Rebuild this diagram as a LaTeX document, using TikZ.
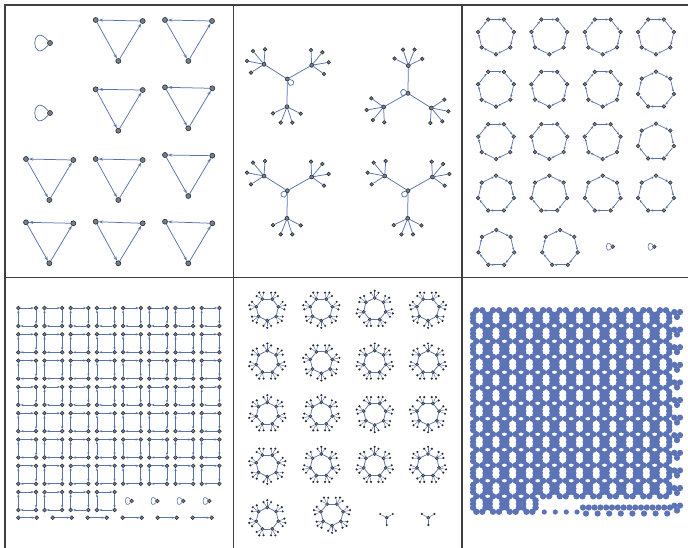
\documentclass[tikz,border=0pt]{standalone}
\usetikzlibrary{arrows.meta}
\definecolor{edgec}{RGB}{88,116,176}
\definecolor{vfill}{RGB}{118,126,138}
\definecolor{vdraw}{RGB}{40,44,52}
\definecolor{blob}{RGB}{92,116,182}
\tikzset{
 vtx/.style={circle,fill=vfill,draw=vdraw,line width=0.6pt,inner sep=0pt,minimum size=5pt},
 svtx/.style={vtx,minimum size=4pt},
 lvtx/.style={vtx,minimum size=3.6pt},
 hvtx/.style={vtx,minimum size=3.8pt,line width=0.5pt},
 tvtx/.style={vtx,minimum size=3.2pt,line width=0.5pt},
 leafv/.style={circle,fill=vdraw,inner sep=0pt,minimum size=2.4pt},
 edge/.style={draw=edgec,line width=0.75pt},
 arr/.style={edge,-{Stealth[length=4.5pt,width=3pt]}},
 sarr/.style={edge,line width=0.7pt,-{Stealth[length=3pt,width=2.2pt]}},
 frame/.style={draw=black!75,line width=1.1pt},
 bigloop/.style={edge,out=130,in=230,min distance=28pt},
 smloop/.style={edge,line width=0.6pt,out=130,in=230,min distance=10pt},
}
\newcommand{\dtri}[7]{%
 \node[vtx] (#1a) at (#2,#3) {};
 \node[vtx] (#1b) at (#4,#5) {};
 \node[vtx] (#1c) at (#6,#7) {};
 \draw[arr] (#1b) -- (#1a);
 \draw[arr] (#1a) -- (#1c);
 \draw[arr] (#1c) -- (#1b);
}
\newcommand{\startree}[4]{%
 \begin{scope}[shift={(#2,#3)},rotate=#4]
 \node[svtx] (#1r) at (0,0) {};
 \node[svtx] (#1p) at (-23.3,-14.7) {};
 \node[svtx] (#1q) at (24.4,-13.7) {};
 \node[svtx] (#1s) at (-0.3,27.7) {};
 \draw[edge] (#1r) -- (#1p); \draw[edge] (#1r) -- (#1q); \draw[edge] (#1r) -- (#1s);
 \foreach \lx/\ly [count=\c] in {-11/-13.3,1/-15,-17/-3.3,-13/8.3}
   {\node[lvtx] (#1p\c) at (-23.3+\lx,-14.7+\ly) {}; \draw[edge] (#1p) -- (#1p\c);}
 \foreach \lx/\ly [count=\c] in {-0.7/-15.3,10.7/-13,17/-3,12.3/8.7}
   {\node[lvtx] (#1q\c) at (24.4+\lx,-13.7+\ly) {}; \draw[edge] (#1q) -- (#1q\c);}
 \foreach \lx/\ly [count=\c] in {-14/6.7,-6.3/16,5.3/16,13.7/7}
   {\node[lvtx] (#1s\c) at (-0.3+\lx,27.7+\ly) {}; \draw[edge] (#1s) -- (#1s\c);}
 \end{scope}
}
\newcommand{\hept}[4]{%
 \begin{scope}[shift={(#2,#3)}]
 \foreach \k in {0,...,6} {\node[hvtx] (#1-\k) at (#4+\k*51.4286:18.3) {};}
 \foreach \k in {0,...,6} {\pgfmathtruncatemacro\nk{mod(\k+1,7)}\draw[sarr] (#1-\k) -- (#1-\nk);}
 \end{scope}
}
\newcommand{\sqr}[3]{%
 \node[hvtx] (#1a) at (#2,#3) {};
 \node[hvtx] (#1b) at (#2+17.7,#3) {};
 \node[hvtx] (#1c) at (#2+17.7,#3+18) {};
 \node[hvtx] (#1d) at (#2,#3+18) {};
 \draw[sarr] (#1a) -- (#1b); \draw[sarr] (#1b) -- (#1c);
 \draw[sarr] (#1c) -- (#1d); \draw[sarr] (#1d) -- (#1a);
}
\newcommand{\tufthept}[4]{%
 \begin{scope}[shift={(#2,#3)}]
 \foreach \k in {0,...,6} {
   \pgfmathsetmacro\ang{#4+\k*51.4286}
   \node[tvtx] (#1-\k) at (\ang:11.3) {};
   \foreach \d/\rr [count=\c] in {-13/17,0/18.5,13/17} {
     \node[leafv] (#1-\k-\c) at (\ang+\d:\rr) {};
     \draw[edge,line width=0.45pt] (#1-\k) -- (#1-\k-\c);
   }
 }
 \foreach \k in {0,...,6} {\pgfmathtruncatemacro\nk{mod(\k+1,7)}\draw[edge] (#1-\k) -- (#1-\nk);}
 \end{scope}
}
\newcommand{\blobcell}[2]{%
 \fill[blob] (#1-3,#2-7.75) circle (3.2) (#1+3,#2-7.75) circle (3.2)
   (#1-6.2,#2-3.6) circle (3.2) (#1+6.2,#2-3.6) circle (3.2)
   (#1-6.2,#2) circle (3.2) (#1+6.2,#2) circle (3.2)
   (#1-6.2,#2+3.6) circle (3.2) (#1+6.2,#2+3.6) circle (3.2);
}
\begin{document}
\begin{tikzpicture}[x=1pt,y=-1pt]
\useasboundingbox (0,0) rectangle (688,548);
\fill[white] (0,0) rectangle (688,548);
% ---------- frame
\draw[frame] (5,548) -- (5,5) -- (688,5);
\draw[frame] (233.5,5) -- (233.5,548);
\draw[frame] (462,5) -- (462,548);
\draw[frame] (5,277.5) -- (688,277.5);
% ---------- panel 1
\node[vtx] (L1) at (50,43) {};
\draw[bigloop] (L1) to (L1);
\node[vtx] (L2) at (50,113) {};
\draw[bigloop] (L2) to (L2);
\dtri{a1}{95.7}{20}{142.7}{21}{118.3}{61}
\dtri{a2}{165}{20}{212}{21}{188.3}{61}
\dtri{a3}{95.7}{89.3}{142.7}{90}{118.3}{130.7}
\dtri{a4}{165}{87.3}{212.3}{88.3}{188.3}{128.3}
\dtri{a5}{26}{159}{73.3}{160}{49.3}{200}
\dtri{a6}{95.7}{159}{142.7}{160}{118.3}{200}
\dtri{a7}{165}{155}{212.3}{155.7}{188.3}{196}
\dtri{a8}{26}{222.3}{73.3}{223.3}{49.3}{263.3}
\dtri{a9}{95.7}{221.7}{142.7}{223.3}{118.3}{263.3}
\dtri{a10}{165}{221.7}{212.3}{223.3}{188.3}{263.3}
% ---------- panel 2
\startree{A}{287.3}{79}{0}
\startree{B}{408}{93.3}{180}
\startree{C}{287.3}{190.7}{0}
\startree{D}{408}{190.7}{0}
\draw[edge] (Ar) to[out=-10,in=-80,min distance=10pt] (Ar);
\draw[edge] (Br) to[out=130,in=210,min distance=10pt] (Br);
\draw[edge] (Cr) to[out=-100,in=-170,min distance=10pt] (Cr);
\draw[edge] (Dr) to[out=-100,in=-170,min distance=10pt] (Dr);
% ---------- panel 3
\foreach \x [count=\i] in {496,549.3,602.7,656} {
  \hept{h1\i}{\x}{36}{90}
  \hept{h4\i}{\x}{194}{-90}
}
\foreach \x [count=\i] in {496,549.3,602.7} {
  \hept{h2\i}{\x}{88.3}{90}
  \hept{h3\i}{\x}{140.7}{90}
}
\hept{h24}{656}{90}{-90}
\hept{h34}{656}{142}{-90}
\hept{h51}{496.3}{248.3}{-90}
\hept{h52}{560}{248.3}{-90}
\node[hvtx] (P1) at (612.7,246.7) {};
\draw[smloop] (P1) to (P1);
\node[hvtx] (P2) at (654.3,246.7) {};
\draw[smloop] (P2) to (P2);
% ---------- panel 4
\foreach \i in {0,...,7} {
  \foreach \j in {0,...,6} {
    \sqr{s\i x\j}{18.3+26.2*\i}{308+26.3*\j}
  }
}
\foreach \i in {0,...,3} {\sqr{s\i x7}{18.3+26.2*\i}{492}}
\foreach \x [count=\i] in {131.7,157.3,183.3,209.3} {
  \node[hvtx] (Q\i) at (\x,501) {};
  \draw[smloop] (Q\i) to (Q\i);
}
\foreach \xa/\xb [count=\i] in {18.3/36.7,52.7/71.7,87.7/106.7,122.7/141.7,157.7/176.7,192.7/211.7} {
  \node[hvtx] (E\i a) at (\xa,517.7) {};
  \node[hvtx] (E\i b) at (\xb,517.7) {};
  \draw[sarr] (E\i a) -- (E\i b);
}
% ---------- panel 5
\tufthept{t11}{267.3}{309.3}{90}
\tufthept{t12}{321.3}{309.3}{90}
\tufthept{t13}{374.7}{309.3}{-90}
\tufthept{t14}{428}{309.3}{90}
\tufthept{t21}{267.3}{362}{-90}
\tufthept{t22}{321.3}{362}{90}
\tufthept{t23}{374.7}{362}{-90}
\tufthept{t24}{428}{362}{-90}
\tufthept{t31}{267.3}{413.7}{-90}
\tufthept{t32}{321.3}{413.7}{-90}
\tufthept{t33}{374.7}{413.7}{90}
\tufthept{t34}{428}{413.7}{90}
\tufthept{t41}{267.3}{465.3}{90}
\tufthept{t42}{321.3}{465.3}{-90}
\tufthept{t43}{374.7}{465.3}{-90}
\tufthept{t44}{428}{465.3}{-90}
\tufthept{t51}{267.3}{518.7}{-90}
\tufthept{t52}{332}{514.3}{90}
\foreach \x [count=\i] in {386.7,428.3} {
  \node[tvtx] (Y\i) at (\x,517.7) {};
  \node[leafv] (Y\i a) at (\x-6.5,514) {};
  \node[leafv] (Y\i b) at (\x+6,514) {};
  \node[leafv] (Y\i c) at (\x,525) {};
  \draw[edge,line width=0.5pt] (Y\i) -- (Y\i a);
  \draw[edge,line width=0.5pt] (Y\i) -- (Y\i b);
  \draw[edge,line width=0.5pt] (Y\i) -- (Y\i c);
}
% ---------- panel 6
\foreach \i in {0,...,11} {
  \foreach \j in {0,...,11} {
    \pgfmathsetmacro\cx{479.3+16.7*\i}
    \pgfmathsetmacro\cy{318+15.5*\j}
    \blobcell{\cx}{\cy}
  }
}
\foreach \i in {0,...,3} {
  \pgfmathsetmacro\cx{479.3+16.7*\i}
  \blobcell{\cx}{504}
  \fill[blob] (\cx-3,511.75) circle (3.2) (\cx+3,511.75) circle (3.2);
}
\foreach \i in {4,...,11} {
  \pgfmathsetmacro\cx{479.3+16.7*\i}
  \fill[blob] (\cx-3,496.25) circle (3.2) (\cx+3,496.25) circle (3.2);
}
\foreach \m in {0,...,11} {
  \pgfmathsetmacro\yy{312+17.6*\m}
  \fill[blob] (674.3,\yy) circle (3.1) (680,\yy) circle (3.1) (677,\yy+5) circle (3.1);
}
\foreach \x in {544.3,555.3,566.3,577} {\fill[blob] (\x,512) circle (2.6);}
\foreach \k in {0,...,15} {\fill[blob] (583+5.8*\k,507.5) circle (3.1);}
\foreach \k in {0,...,7} {\fill[blob] (586+11.6*\k,513.5) circle (3.1);}
\end{tikzpicture}
\end{document}
